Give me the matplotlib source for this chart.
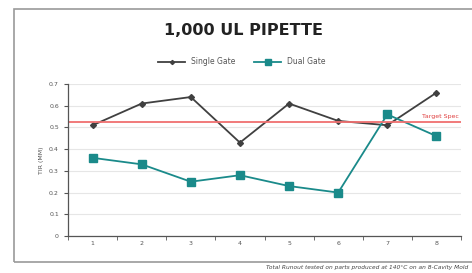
import numpy as np
import matplotlib.pyplot as plt
from matplotlib.patches import Rectangle

# data
shots = [1, 2, 3, 4, 5, 6, 7, 8]
single_gate = [0.51, 0.61, 0.64, 0.43, 0.61, 0.53, 0.51, 0.66]
dual_gate = [0.36, 0.33, 0.25, 0.28, 0.23, 0.20, 0.56, 0.46]
target_spec = 0.525
y_ticks = [0, 0.1, 0.2, 0.3, 0.4, 0.5, 0.6, 0.7]

fig = plt.figure(figsize=(4.72, 2.73), dpi=100)
W, H = 472, 273

# chart frame (runs off the right edge like the scan)
fig.patches.append(Rectangle((14 / W, 1 - 262 / H), 1.0, (262 - 9) / H,
                             transform=fig.transFigure, fill=False,
                             edgecolor='#9a9a9a', linewidth=1.2))

ax = fig.add_axes([68 / W, 1 - 236 / H, (461 - 68) / W, (236 - 84) / H])
ax.plot(shots, single_gate, color='#404040', marker='D', markersize=3,
        linewidth=1.3, label='Single Gate')
ax.plot(shots, dual_gate, color='#1a8a8a', marker='s', markersize=6,
        linewidth=1.3, label='Dual Gate')
ax.axhline(target_spec, color='#f07070', linewidth=1.3)
ax.text(8.45, target_spec + 0.012, 'Target Spec', color='#e04040',
        fontsize=4.5, ha='right', va='bottom')

ax.set_xlim(0.5, 8.5)
ax.set_ylim(0, 0.7)
ax.set_xticks(shots)
ax.set_xticks(np.arange(0.5, 9, 1), minor=True)
ax.set_yticks(y_ticks)
ax.set_yticklabels(['0', '0.1', '0.2', '0.3', '0.4', '0.5', '0.6', '0.7'])
ax.tick_params(axis='both', labelsize=4.5, colors='#555555', length=0)
ax.tick_params(axis='x', which='minor', length=3, color='#555555')
ax.tick_params(axis='y', length=3, color='#555555')
ax.grid(axis='y', color='#e6e6e6', linewidth=0.8)
ax.set_axisbelow(True)
for s in ['top', 'right']:
    ax.spines[s].set_visible(False)
for s in ['left', 'bottom']:
    ax.spines[s].set_color('#555555')
    ax.spines[s].set_linewidth(0.9)
ax.set_ylabel('TIR (MM)', fontsize=4.5, color='#555555', labelpad=4)

fig.text(244 / W, 1 - 30 / H, '1,000 UL PIPETTE', ha='center', va='center',
         fontsize=11.5, fontweight='bold', color='#222222')
fig.legend(loc='center', bbox_to_anchor=(242 / W, 1 - 62 / H), ncol=2,
           fontsize=5.5, frameon=False, handlelength=3.5, columnspacing=2.5,
           markerscale=0.7, labelcolor='#555555')

fig.text(468 / W, 1 - 268 / H,
         'Total Runout tested on parts produced at 140\u00b0C on an 8-Cavity Mold',
         ha='right', va='center', fontsize=4.2, style='italic', color='#444444')

fig.savefig('out.png', dpi=100)
